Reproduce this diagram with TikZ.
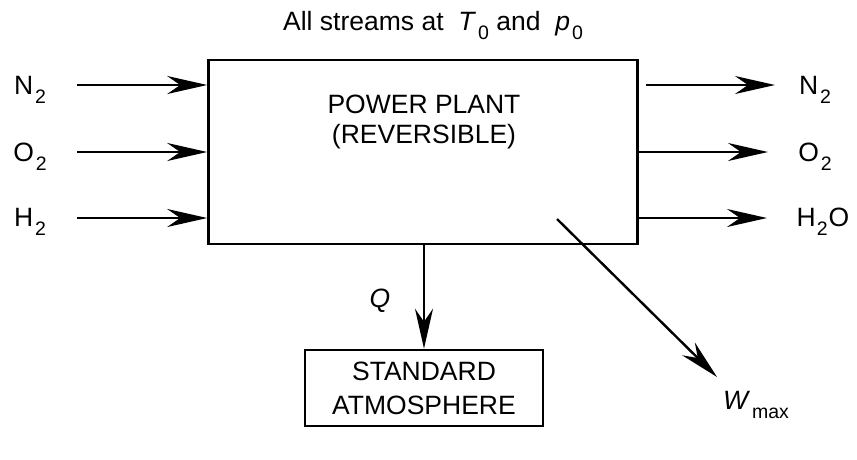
\documentclass[tikz,border=0pt]{standalone}
\usepackage{fontspec}
\setmainfont{Liberation Sans}
\usepackage{tikz}
\usetikzlibrary{arrows.meta,positioning,calc}
\newcommand{\lowidx}[1]{\kern2pt\raisebox{-0.34em}{\fontsize{19.5}{20}\selectfont #1}}

\begin{document}
\begin{tikzpicture}[x=1pt,y=-1pt,>={Stealth[length=40pt,width=18pt,inset=13pt]},
 every node/.style={font=\fontsize{26.5}{32}\selectfont},
 blk/.style={draw,line width=2.6pt,inner sep=0pt},
 flow/.style={->,line width=2.4pt}]
\useasboundingbox (0,0) rectangle (857,459);
\node[blk,minimum width=429,minimum height=184] (plant) at (423,152) {};
\node (pl1) at (424,104) {POWER PLANT};
\node (pl2) at (424,137) {(REVERSIBLE)};
\node[blk,minimum width=238,minimum height=76,align=center,font=\fontsize{26.5}{34}\selectfont] (atm) at (424,388) {STANDARD\\ATMOSPHERE};
\node (top) at (433,25) {All streams at \ \textit{T}\lowidx{0} and \ \textit{p}\lowidx{0}};

% inlet streams
\coordinate (iN) at (77,85);
\coordinate (iO) at (77,152);
\coordinate (iH) at (77,218);
\node (lN) at (30,90) {N\lowidx{2}};
\node (lO) at (30,157) {O\lowidx{2}};
\node (lH) at (30,222) {H\lowidx{2}};
\draw[flow] (iN)--(plant.west |- iN);
\draw[flow] (iO)--(plant.west |- iO);
\draw[flow] (iH)--(plant.west |- iH);

% outlet streams
\coordinate (oN) at (775,85);
\coordinate (oO) at (768,152);
\coordinate (oH) at (767,218);
\node (rN) at (815,90) {N\lowidx{2}};
\node (rO) at (815,157) {O\lowidx{2}};
\node (rH) at (823,222) {H\kern-1pt\lowidx{2}\kern1pt O};
\draw[flow] ($(plant.east |- oN)+(7,0)$)--(oN);
\draw[flow] (plant.east |- oO)--(oO);
\draw[flow] (plant.east |- oH)--(oH);

% heat and work
\draw[flow] (atm.north |- plant.south)--(atm.north);
\node (q) at (380,301) {\textit{Q}};
\coordinate (w0) at (557,219);
\coordinate (w1) at (717,377);
\draw[flow] (w0)--(w1);
\node (w) at (756,405) {\textit{W}\lowidx{max}};
\end{tikzpicture}
\end{document}
